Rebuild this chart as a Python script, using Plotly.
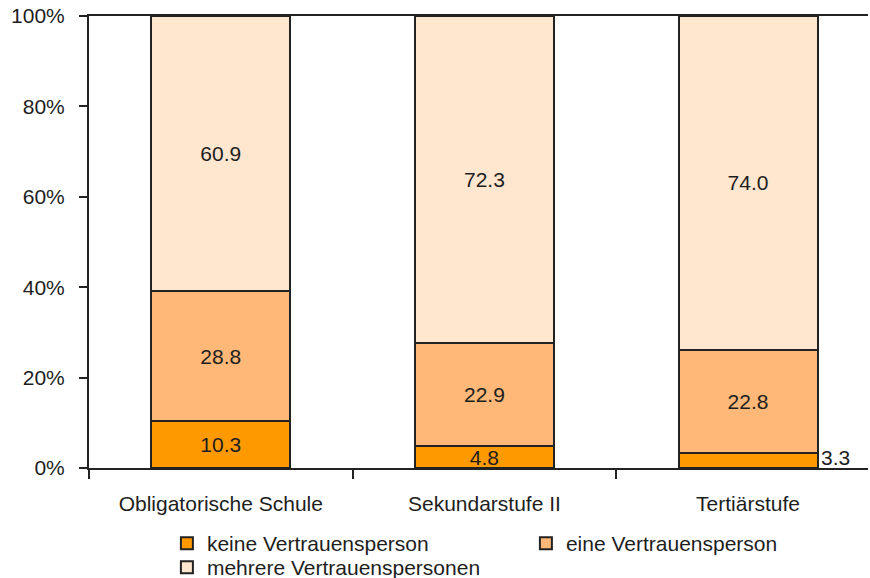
import plotly.graph_objects as go

categories = ["Obligatorische Schule", "Sekundarstufe II", "Tertiärstufe"]
keine = [10.3, 4.8, 3.3]
eine = [28.8, 22.9, 22.8]
mehrere = [60.9, 72.3, 74.0]
series_names = ["keine Vertrauensperson", "eine Vertrauensperson", "mehrere Vertrauenspersonen"]
y_ticks = [0, 20, 40, 60, 80, 100]
y_tick_labels = [f"{v}%" for v in y_ticks]

colors = ["#FF9900", "#FFB877", "#FFE6CF"]
font_family = "Liberation Sans, Arial, sans-serif"
text_color = "#1e1e1e"
fs = 21

fig = go.Figure()

# Segment labels: the thin bottom segment of the last bar is labelled beside the bar
keine_text = [f"{v:.1f}" for v in keine[:-1]] + [""]
for name, vals, col, txt, leg in [
    (series_names[0], keine, colors[0], keine_text, "legend"),
    (series_names[1], eine, colors[1], [f"{v:.1f}" for v in eine], "legend"),
    (series_names[2], mehrere, colors[2], [f"{v:.1f}" for v in mehrere], "legend2"),
]:
    fig.add_trace(go.Bar(
        x=categories, y=vals, name=name, legend=leg,
        marker=dict(color=col, line=dict(color="#222222", width=2)),
        width=0.527,
        text=txt, textposition="inside", insidetextanchor="middle",
        textangle=0, constraintext="none",
        textfont=dict(family=font_family, size=fs, color=text_color),
        hoverinfo="skip",
    ))

fig.add_annotation(
    x=2.2635, y=keine[2] / 2, xref="x", yref="y",
    text=f"{keine[2]:.1f}", showarrow=False, xanchor="left", yanchor="middle",
    xshift=1, yshift=3,
    font=dict(family=font_family, size=fs, color=text_color),
)

legend_common = dict(
    orientation="h", xanchor="left", yanchor="top",
    entrywidth=314, entrywidthmode="pixels",
    font=dict(family=font_family, size=fs, color=text_color),
    traceorder="normal", itemclick=False, itemdoubleclick=False,
    tracegroupgap=0, bgcolor="rgba(0,0,0,0)",
)

fig.update_layout(
    barmode="stack",
    width=870, height=578,
    margin=dict(l=89, r=2, t=16, b=110, autoexpand=False),
    plot_bgcolor="white", paper_bgcolor="white",
    font=dict(family=font_family, size=fs, color=text_color),
    bargap=0.473,
    showlegend=True,
    legend=dict(x=0.1, y=-0.122, **legend_common),
    legend2=dict(x=0.1, y=-0.1748, **legend_common),
    xaxis=dict(
        range=[-0.5, 2.455], showline=True, linecolor="#222222", linewidth=2,
        mirror=True, ticks="outside", tickson="boundaries", ticklen=9,
        tickcolor="#222222", tickwidth=2, showgrid=False,
        tickfont=dict(family=font_family, size=fs, color=text_color),
        ticklabelstandoff=16,
    ),
    yaxis=dict(
        range=[0, 100], tickmode="array", tickvals=y_ticks, ticktext=y_tick_labels,
        showline=True, linecolor="#222222", linewidth=2,
        ticks="outside", ticklen=8, tickcolor="#222222", tickwidth=2,
        showgrid=False, zeroline=False,
        tickfont=dict(family=font_family, size=fs, color=text_color),
        ticklabelstandoff=10,
    ),
)

fig.write_html("out.html")
